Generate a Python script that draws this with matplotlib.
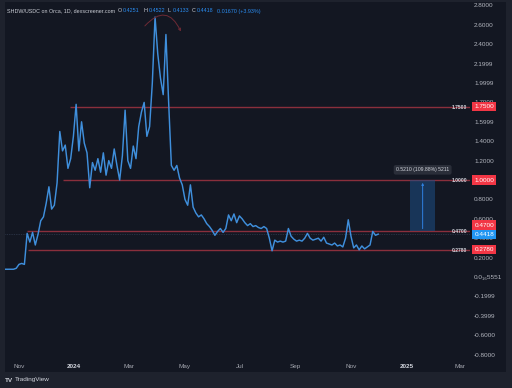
import matplotlib
matplotlib.use("Agg")
import matplotlib.pyplot as plt
import matplotlib.dates as mdates
import matplotlib.transforms as mtrans
from matplotlib.patches import Rectangle, FancyArrowPatch
import numpy as np
import pandas as pd

plt.rcParams['font.family'] = ['Liberation Sans', 'DejaVu Sans']

# ---------------- data ----------------
start_date = "2023-10-17"
step_days = 3
prices = [0.08, 0.08, 0.08, 0.08, 0.09, 0.13, 0.14, 0.13, 0.45, 0.36,
          0.46, 0.33, 0.44, 0.58, 0.62, 0.76, 0.93, 0.70, 0.74, 0.97,
          1.50, 1.30, 1.36, 1.12, 1.22, 1.45, 1.78, 1.30, 1.60, 1.38,
          1.28, 0.92, 1.18, 1.10, 1.22, 1.08, 1.28, 1.05, 1.20, 1.12,
          1.32, 1.15, 1.00, 1.25, 1.72, 1.20, 1.12, 1.35, 1.22, 1.55,
          1.70, 1.80, 1.45, 1.55, 2.00, 2.68, 2.30, 2.05, 1.88, 2.50,
          1.80, 1.15, 1.10, 1.15, 1.02, 0.95, 0.80, 0.74, 0.95, 0.72,
          0.66, 0.62, 0.64, 0.60, 0.55, 0.52, 0.48, 0.43, 0.47, 0.50,
          0.46, 0.50, 0.64, 0.58, 0.65, 0.56, 0.63, 0.60, 0.56, 0.53,
          0.55, 0.52, 0.53, 0.51, 0.50, 0.52, 0.50, 0.40, 0.27, 0.38,
          0.36, 0.37, 0.36, 0.37, 0.50, 0.42, 0.39, 0.37, 0.38, 0.37,
          0.40, 0.45, 0.40, 0.38, 0.39, 0.40, 0.37, 0.41, 0.35, 0.34,
          0.33, 0.35, 0.32, 0.33, 0.31, 0.40, 0.59, 0.42, 0.30, 0.33,
          0.28, 0.32, 0.29, 0.31, 0.33, 0.47, 0.43, 0.4418]

last_price = 0.4418

level_values = [1.75, 1.0, 0.47, 0.278]
level_labels = ["1.7500", "1.0000", "0.4700", "0.2780"]
level_starts = ["2023-12-27", "2023-12-19", "2023-11-10", "2023-11-11"]

x_tick_dates = ["2023-11-01", "2024-01-01", "2024-03-01", "2024-05-01", "2024-07-01",
                "2024-09-01", "2024-11-01", "2025-01-01", "2025-03-01"]
x_tick_labels = ["Nov", "2024", "Mar", "May", "Jul", "Sep", "Nov", "2025", "Mar"]

y_ticks = [2.8, 2.6, 2.4, 2.2, 2.0, 1.8, 1.6, 1.4, 1.2, 1.0, 0.8, 0.6, 0.4, 0.2, 0.0,
           -0.2, -0.4, -0.6, -0.8]
y_tick_labels = ["2.8000", "2.6000", "2.4000", "2.1999", "1.9999", "1.7999", "1.5999",
                 "1.4000", "1.2000", "1.0000", "0.8000", "0.6000", "0.4000", "0.2000",
                 "0.0\u2081\u20865551", "-0.1999", "-0.3999", "-0.6000", "-0.8000"]

measure_start = "2025-01-05"
measure_end = "2025-02-02"
measure_low, measure_high = 0.47, 1.0
measure_text = "0.5210 (109.88%) 5211"

header_title = "SHDW/USDC on Orca, 1D, dexscreener.com"
ohlc_keys = ["O", "H", "L", "C"]
ohlc_vals = ["0.4251", "0.4522", "0.4133", "0.4418"]
change_text = "0.01670 (+3.93%)"

# ---------------- figure ----------------
W, H = 512, 388
BG_OUT = '#1e222d'
BG_PANE = '#131722'
fig = plt.figure(figsize=(W / 100, H / 100), dpi=100, facecolor=BG_OUT)

def fx(px):
    return px / W

def fy(py):
    return 1 - py / H

fig.patches.append(Rectangle((fx(5), fy(372)), fx(501), 370 / H,
                             transform=fig.transFigure, fc=BG_PANE, ec='none', zorder=-5))

ax = fig.add_axes([fx(5), fy(358), fx(465), 356 / H])
ax.set_facecolor(BG_PANE)
for s in ax.spines.values():
    s.set_visible(False)

dates = pd.date_range(start_date, periods=len(prices), freq=f"{step_days}D")
ax.plot(dates, prices, color='#3f8fdc', lw=1.05, zorder=4, solid_joinstyle='round')

x0 = mdates.date2num(pd.Timestamp("2023-11-01"))
ax.set_xlim(x0 - 15.4, x0 + 497.2)
ax.set_ylim(-0.835, 2.835)
xmax = ax.get_xlim()[1]

# current price line
ax.axhline(last_price, color='#3e4a60', lw=0.5, ls=(0, (1, 1.5)), zorder=2)

# horizontal levels
for v, st in zip(level_values, level_starts):
    ax.hlines(v, mdates.date2num(pd.Timestamp(st)), xmax, color='#8a2f3c', lw=1.0, zorder=3)

blend = mtrans.blended_transform_factory(ax.transAxes, ax.transData)
for v, lab in zip(level_values, level_labels):
    ax.text(0.9935, v, lab, transform=blend, ha='right', va='center', fontsize=3.6,
            color='#d1d4dc', fontweight='bold', zorder=6)

# measurement box
m0 = mdates.date2num(pd.Timestamp(measure_start))
m1 = mdates.date2num(pd.Timestamp(measure_end))
ax.fill_between([m0, m1], measure_low, measure_high, color='#1d4f85', alpha=0.55, lw=0, zorder=3)
mid = (m0 + m1) / 2
ax.annotate("", xy=(mid, measure_high), xytext=(mid, measure_low),
            arrowprops=dict(arrowstyle='-|>', color='#2f80e0', lw=0.7, mutation_scale=3), zorder=5)
ax.text(mid, measure_high + 0.105, measure_text, ha='center', va='center', fontsize=3.7,
        color='#d1d4dc', zorder=6,
        bbox=dict(boxstyle='round,pad=0.45,rounding_size=0.4', fc='#2a2e39', ec='none'))

# ticks
ax.set_xticks([mdates.date2num(pd.Timestamp(d)) for d in x_tick_dates])
ax.set_xticklabels(x_tick_labels)
for t, lab in zip(ax.get_xticklabels(), x_tick_labels):
    if lab.isdigit():
        t.set_fontweight('bold')
        t.set_color('#d1d4dc')
    else:
        t.set_color('#a3a6af')
ax.tick_params(axis='x', length=0, pad=4.5, labelsize=4.6)

ax.yaxis.tick_right()
ax.set_yticks(y_ticks)
ax.set_yticklabels(y_tick_labels)
ax.tick_params(axis='y', length=0, pad=3, labelsize=4.6, labelcolor='#b2b5be')

# axis price boxes
box_items = [(1.757, "1.7500", '#f23645'), (1.0, "1.0000", '#f23645'),
             (0.535, "0.4700", '#f23645'), (last_price, f"{last_price:.4f}", '#2196f3'),
             (0.282, "0.2780", '#f23645')]
for v, lab, c in box_items:
    ax.text(1.0 + 4.5 / 465, v, lab, transform=blend, ha='left', va='center', fontsize=4.6,
            color='white', zorder=7,
            bbox=dict(boxstyle='square,pad=0.33', fc=c, ec='none'))

# header
fig.text(fx(7), fy(11), header_title, fontsize=3.9, color='#c9ccd4', va='center')
key_x = [117.5, 143.5, 168, 191.5]
for k, v, kx in zip(ohlc_keys, ohlc_vals, key_x):
    fig.text(fx(kx), fy(11), k, fontsize=3.9, color='#c9ccd4', va='center')
    fig.text(fx(kx + 4.8), fy(11), v, fontsize=3.9, color='#2a8cf0', va='center')
fig.text(fx(217), fy(11), change_text, fontsize=3.9, color='#2a8cf0', va='center')

# red curved arrow drawing
arc = FancyArrowPatch((fx(143), fy(28)), (fx(182), fy(34)), transform=fig.transFigure,
                      connectionstyle='arc3,rad=-0.8', arrowstyle='->', mutation_scale=4,
                      color='#6e2a35', lw=0.7, zorder=1)
fig.patches.append(arc)

# TradingView logo
fig.text(fx(5), fy(380), "TV", fontsize=4.6, color='#d1d4dc', fontweight='bold', va='center')
fig.text(fx(15), fy(380), "TradingView", fontsize=4.6, color='#d1d4dc', va='center')

fig.savefig("out.png", dpi=100, facecolor=BG_OUT)
